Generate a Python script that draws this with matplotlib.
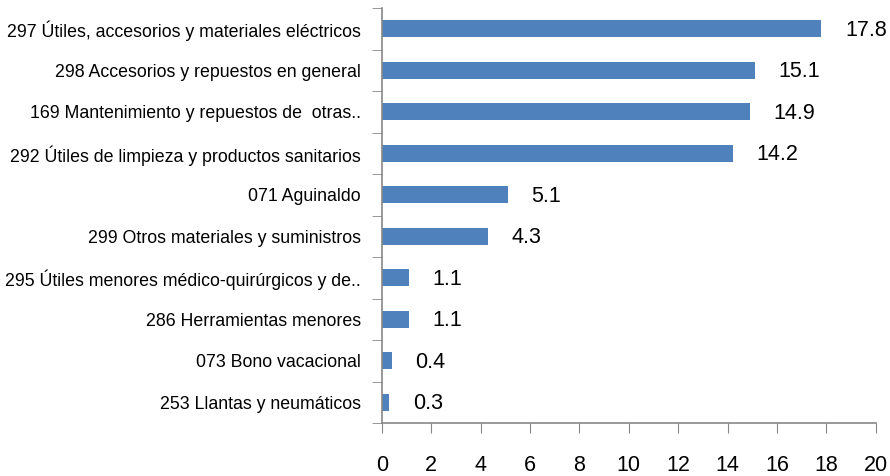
import numpy as np
import matplotlib
matplotlib.use("Agg")
import matplotlib.pyplot as plt

categorias = [
    "297 Útiles, accesorios y materiales eléctricos",
    "298 Accesorios y repuestos en general",
    "169 Mantenimiento y repuestos de  otras..",
    "292 Útiles de limpieza y productos sanitarios",
    "071 Aguinaldo",
    "299 Otros materiales y suministros",
    "295 Útiles menores médico-quirúrgicos y de..",
    "286 Herramientas menores",
    "073 Bono vacacional",
    "253 Llantas y neumáticos",
]
valores = [17.8, 15.1, 14.9, 14.2, 5.1, 4.3, 1.1, 1.1, 0.4, 0.3]
xticks = [0, 2, 4, 6, 8, 10, 12, 14, 16, 18, 20]

plt.rcParams['font.family'] = ['Liberation Sans Narrow', 'Liberation Sans', 'DejaVu Sans']

fig = plt.figure(figsize=(8.9, 4.76), dpi=100)
ax = fig.add_axes([0.429, 0.111, 0.555, 0.872])

y = np.arange(len(categorias))
bars = ax.barh(y, valores, height=0.41, color='#4F81BD')

ax.set_xlim(0, 20)
ax.set_ylim(len(categorias) - 0.5, -0.5)
ax.set_xticks(xticks)
ax.set_xticklabels([str(t) for t in xticks], fontsize=15.5)
ax.set_yticks(y)
ax.set_yticklabels(categorias, fontsize=12.8)
ax.set_yticks(np.arange(len(categorias) + 1) - 0.5, minor=True)

ax.tick_params(axis='y', which='major', length=0, pad=15)
ax.tick_params(axis='y', which='minor', length=7, color='#878787', direction='out')
ax.tick_params(axis='x', length=7, color='#878787', direction='out', pad=16)

for s in ['top', 'right']:
    ax.spines[s].set_visible(False)
for s in ['left', 'bottom']:
    ax.spines[s].set_color('#878787')
    ax.spines[s].set_linewidth(1.2)

for bar, v in zip(bars, valores):
    ax.annotate(f'{v:.1f}', (bar.get_width(), bar.get_y() + bar.get_height() / 2),
                xytext=(17, -1), textcoords='offset points',
                va='center', ha='left', fontsize=15.5)

fig.savefig('out.png', dpi=100)
